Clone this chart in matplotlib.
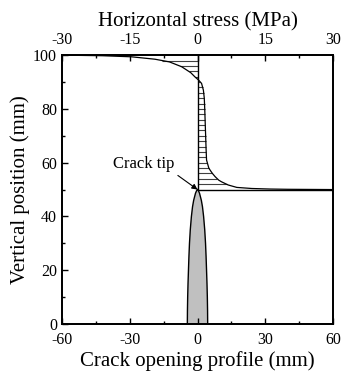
import numpy as np
import matplotlib
matplotlib.use('Agg')
from matplotlib import pyplot as plt
from matplotlib.ticker import MultipleLocator

plt.rcParams['font.family'] = ['Liberation Serif', 'DejaVu Serif']
plt.rcParams['axes.unicode_minus'] = False

# Crack opening profile (half width, mm) vs vertical position (mm)
crack_y = [0, 5, 10, 15, 20, 25, 30, 35, 40, 43.6, 46, 48.6, 49.5, 50]
crack_w = [4.5, 4.45, 4.35, 4.2, 4.0, 3.8, 3.55, 3.2, 2.7, 2.2, 1.7, 0.9, 0.45, 0.0]

# Horizontal stress (MPa) vs vertical position (mm)
stress_y = [100.0, 99.8, 99.4, 98.5, 97.5, 95.7, 93.5, 91.9, 90.8, 89.5, 87, 84, 80,
            75, 70, 65, 61, 58, 57.2, 56, 54.8, 53.5, 52.9, 51.7, 50.8, 50.4,
            50.2, 50.1, 50.0]
stress = [-29, -21, -14.6, -9.4, -6.2, -3.5, -1.5, -0.55, 0.2, 0.9, 1.3, 1.5, 1.6,
          1.7, 1.8, 1.9, 2.0, 2.5, 2.8, 3.3, 3.9, 4.7, 5.3, 6.8, 8.7, 12,
          16, 20, 30]

hatch_y = np.arange(52, 100, 2)

fig = plt.figure(figsize=(3.42, 3.78), dpi=100)
ax = fig.add_axes([0.181, 0.143, 0.793, 0.711])

# crack opening shape
cy = np.array(crack_y)
cw = np.array(crack_w)
ax.fill_betweenx(cy, -cw, cw, facecolor='#c0c0c0', edgecolor='none')
ax.plot(-cw, cy, color='k', lw=1.0)
ax.plot(cw, cy, color='k', lw=1.0)

ax.set_xlim(-60, 60)
ax.set_ylim(0, 100)
ax.set_xticks([-60, -30, 0, 30, 60])
ax.xaxis.set_minor_locator(MultipleLocator(15))
ax.set_yticks([0, 20, 40, 60, 80, 100])
ax.yaxis.set_minor_locator(MultipleLocator(10))
ax.set_xlabel('Crack opening profile (mm)', fontsize=15, labelpad=2)
ax.set_ylabel('Vertical position (mm)', fontsize=15, labelpad=2)
ax.tick_params(which='both', direction='in', labelsize=11.5, width=1.0)
ax.tick_params(which='major', length=4)
ax.tick_params(which='minor', length=2.5)
ax.tick_params(axis='x', pad=6)

ax.annotate('Crack tip', xy=(0, 50), xytext=(-24, 59.5), fontsize=12,
            ha='center', va='center',
            arrowprops=dict(arrowstyle='-|>', color='k', lw=0.8,
                            mutation_scale=8, shrinkA=1, shrinkB=0,
                            relpos=(0.95, 0.1)))

# stress on top axis
ax2 = ax.twiny()
ax2.set_xlim(-30, 30)
sy = np.array(stress_y)
sx = np.array(stress)
hx = np.interp(hatch_y, sy[::-1], sx[::-1])
ax2.hlines(hatch_y, 0, hx, color='0.25', lw=0.8)
ax2.plot(sx, sy, color='k', lw=0.9)
ax2.hlines(50, 0, 30, color='k', lw=1.0)
ax2.axvline(0, ymin=0.5, ymax=1.0, color='k', lw=1.0)
ax2.set_xticks([-30, -15, 0, 15, 30])
ax2.xaxis.set_minor_locator(MultipleLocator(7.5))
ax2.set_xlabel('Horizontal stress (MPa)', fontsize=15, labelpad=4)
ax2.tick_params(which='both', direction='in', labelsize=11.5, width=1.0, pad=5)
ax2.tick_params(which='major', length=4)
ax2.tick_params(which='minor', length=2.5)

for a in (ax, ax2):
    for s in a.spines.values():
        s.set_linewidth(1.3)

fig.savefig('out.png', dpi=100)
plt.close(fig)
